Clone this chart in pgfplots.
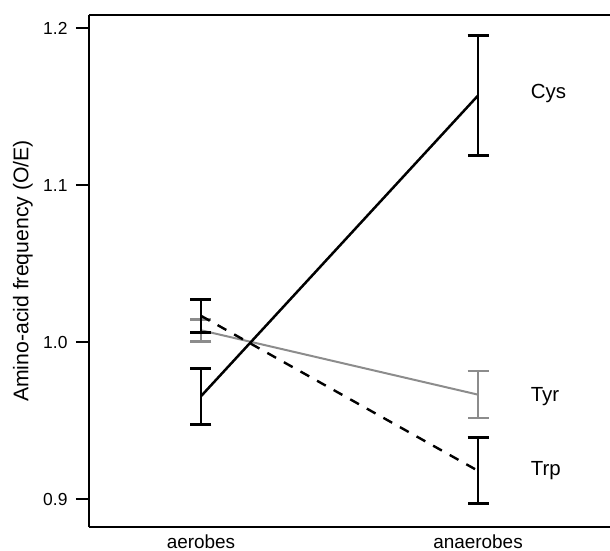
\documentclass[border=0pt]{standalone}
\usepackage{pgfplots}
\pgfplotsset{compat=1.18}
\usepackage{fontspec}
\setmainfont{Liberation Sans}
\definecolor{tyrgray}{HTML}{8C8C8C}
\begin{document}
\begin{tikzpicture}
\begin{axis}[
  scale only axis,
  width=521bp, height=512bp,
  xmin=-0.4043, xmax=1.4765,
  ymin=0.8822, ymax=1.2083,
  separate axis lines,
  axis x line*=box,
  axis y line*=left,
  axis line style={line width=2.6bp, black},
  xtick={0,1},
  xticklabels={aerobes,anaerobes},
  x tick label style={font=\fontsize{19}{22}\selectfont, anchor=base, yshift=-8bp},
  major x tick style={draw=none},
  ytick={0.9,1.0,1.1,1.2},
  yticklabels={0.9,1.0,1.1,1.2},
  y tick label style={font=\fontsize{17.5}{20}\selectfont, xshift=-5bp},
  tick align=outside,
  major tick length=13bp,
  y tick style={line width=2.6bp, black},
  ylabel={Amino-acid frequency (O/E)},
  ylabel style={font=\fontsize{21.3}{24}\selectfont, at={(axis description cs:0,0.5)}, anchor=center, yshift=66bp},
  /pgf/number format/assume math mode=true,
  clip=false,
]
\coordinate (bl) at (rel axis cs:0,0);
% Tyr (grey)
\addplot[tyrgray, line width=2bp,
  error bars/.cd, y dir=both, y explicit,
  error bar style={line width=2.6bp, tyrgray},
  error mark options={line width=2.6bp, tyrgray, mark size=10.5bp, rotate=90}]
  coordinates {(0,1.0075) +- (0,0.007) (1,0.9665) +- (0,0.015)};
% Trp (dashed black)
\addplot[black, line width=2.4bp, dash pattern=on 10bp off 9bp,
  error bars/.cd, y dir=both, y explicit,
  error bar style={line width=2.8bp, black, solid},
  error mark options={line width=2.8bp, black, solid, mark size=10.5bp, rotate=90}]
  coordinates {(0,1.0167) +- (0,0.0105) (1,0.918) +- (0,0.021)};
% Cys (black)
\addplot[black, line width=2.5bp,
  error bars/.cd, y dir=both, y explicit,
  error bar style={line width=2.8bp, black},
  error mark options={line width=2.8bp, black, mark size=10.5bp, rotate=90}]
  coordinates {(0,0.9655) +- (0,0.0178) (1,1.157) +- (0,0.038)};
\node[anchor=base west, inner sep=0pt, font=\fontsize{20.5}{24}\selectfont] at (axis cs:1.19,1.1554) {Cys};
\node[anchor=base west, inner sep=0pt, font=\fontsize{20.5}{24}\selectfont] at (axis cs:1.19,0.9624) {Tyr};
\node[anchor=base west, inner sep=0pt, font=\fontsize{20.5}{24}\selectfont] at (axis cs:1.19,0.9153) {Trp};
\end{axis}
\pgfresetboundingbox
\path[use as bounding box] (bl) ++(-89bp,-24bp) rectangle ++(610bp,551bp);
\end{tikzpicture}
\end{document}
